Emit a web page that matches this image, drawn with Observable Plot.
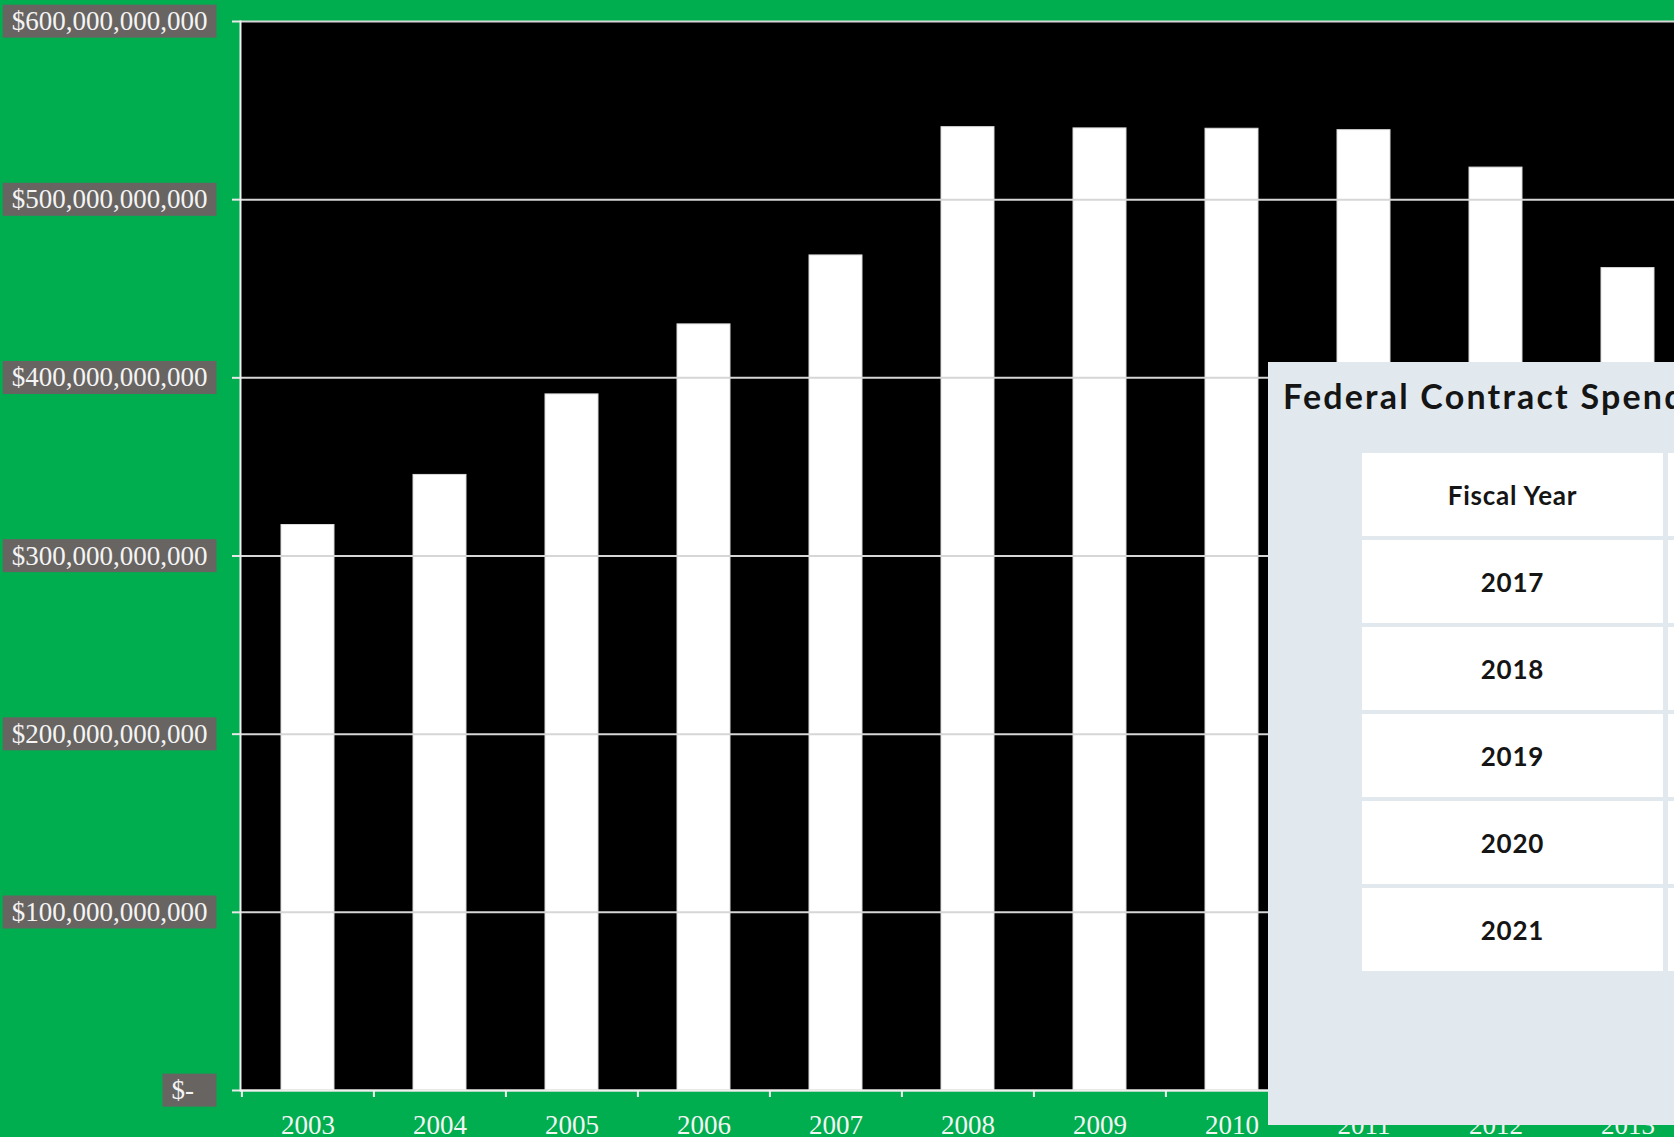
<!DOCTYPE html>
<html>
<head>
<meta charset="utf-8">
<script src="https://cdn.jsdelivr.net/npm/d3@7"></script>
<script src="https://cdn.jsdelivr.net/npm/@observablehq/plot@0.6"></script>
<style>
  html, body { margin: 0; padding: 0; background: #00ae4f; overflow: hidden; }
  #wrap { position: relative; width: 1674px; height: 1137px; overflow: hidden; }
  #chart { position: absolute; left: 0; top: 0; width: 1694px; }
  #panel {
    position: absolute; left: 1268px; top: 362px; width: 800px; height: 763px;
    background: #e1e9ef; font-family: Lato, "Noto Sans", sans-serif; color: #151515;
  }
  #panel h2 {
    position: absolute; left: 15px; top: 13px; margin: 0; white-space: nowrap;
    font-size: 34px; font-weight: 700; letter-spacing: 2.2px;
  }
  #panel table {
    position: absolute; left: 89px; top: 87px; border-collapse: separate;
    border-spacing: 5px 4px; table-layout: fixed; width: 617px;
  }
  #panel td {
    background: #fff; width: 301px; height: 83px; padding: 0; text-align: center;
    vertical-align: middle; font-size: 26px; font-weight: 700; letter-spacing: 0.8px;
  }
</style>
</head>
<body>
<div id="wrap">
  <div id="chart"></div>
  <div id="panel">
    <h2 id="panel-title"></h2>
    <table id="panel-table"></table>
  </div>
</div>
<script>
// Annual federal contract spending, fiscal years 2003-2013 (dollars)
const years = [2003, 2004, 2005, 2006, 2007, 2008, 2009, 2010, 2011, 2012, 2013];
const spending = [317.4e9, 345.5e9, 390.7e9, 430.0e9, 468.7e9, 540.7e9, 540.0e9, 539.8e9, 539.0e9, 518.0e9, 461.6e9];
const yTicks = [0, 100e9, 200e9, 300e9, 400e9, 500e9, 600e9];

// Inset table
const panelTitle = "Federal Contract Spending";
const tableHeader = ["Fiscal Year", ""];
const fiscalYears = ["2017", "2018", "2019", "2020", "2021"];

const data = years.map((year, i) => ({year, value: spending[i]}));

const width = 1694, marginLeft = 240, marginRight = 0;
const step = (width - marginLeft - marginRight) / years.length;

const dollars = d3.format("$,");
const tickFormat = v => v === 0 ? "$-\u00a0\u00a0" : dollars(v);

const chart = Plot.plot({
  width,
  height: 1137,
  marginLeft,
  marginRight,
  marginTop: 21,
  marginBottom: 47,
  style: {background: "transparent", fontFamily: "'Liberation Serif', 'Times New Roman', serif", fontSize: "27px", color: "#f4f4f4", overflow: "visible", maxWidth: "none"},
  x: {type: "band", domain: years, paddingInner: 0.6, paddingOuter: 0.3},
  y: {domain: [0, 600e9]},
  marks: [
    Plot.frame({fill: "black", stroke: null}),
    Plot.barY(data, {x: "year", y: "value", fill: "white", stroke: "#dcdcdc", strokeWidth: 1}),
    Plot.gridY(yTicks, {stroke: "#d6d6d6", strokeOpacity: 1, strokeWidth: 2}),
    Plot.axisY(yTicks, {tickSize: 8, tickPadding: 25, tickFormat, stroke: "#e8e8e8", strokeWidth: 2, fill: "#f4f4f4", label: null}),
    Plot.frame({anchor: "left", stroke: "#f0f0f0", strokeWidth: 2}),
    Plot.ruleY([0], {stroke: "#f0f0f0", strokeWidth: 2}),
    Plot.axisX({tickSize: 0, tickPadding: 24, label: null, fill: "#f4f4f4", tickFormat: d => String(d)}),
    Plot.axisX({tickSize: 7, tickFormat: () => "", dx: -step / 2, stroke: "#f0f0f0", strokeWidth: 2, label: null})
  ]
});
document.getElementById("chart").append(chart);

// Grey label boxes behind the y-axis tick labels
const svg = chart.tagName === "svg" ? chart : chart.querySelector("svg");
const labelGroup = svg.querySelector('g[aria-label="y-axis tick label"]');
if (labelGroup) {
  const svgBox = svg.getBoundingClientRect();
  const boxes = document.createElementNS("http://www.w3.org/2000/svg", "g");
  labelGroup.querySelectorAll("text").forEach(t => {
    const r = t.getBoundingClientRect();
    const cy = (r.top + r.bottom) / 2 - svgBox.top;
    const rect = document.createElementNS("http://www.w3.org/2000/svg", "rect");
    rect.setAttribute("x", r.left - svgBox.left - 9);
    rect.setAttribute("width", r.width + 18);
    rect.setAttribute("y", cy - 16.5);
    rect.setAttribute("height", 33);
    rect.setAttribute("fill", "#686462");
    boxes.append(rect);
  });
  labelGroup.parentNode.insertBefore(boxes, labelGroup);
}

// Inset table
document.getElementById("panel-title").textContent = panelTitle;
const table = document.getElementById("panel-table");
const rows = [tableHeader, ...fiscalYears.map(y => [y, ""])];
rows.forEach(r => {
  const tr = document.createElement("tr");
  r.forEach(c => {
    const td = document.createElement("td");
    td.textContent = c;
    tr.append(td);
  });
  table.append(tr);
});
</script>
</body>
</html>
